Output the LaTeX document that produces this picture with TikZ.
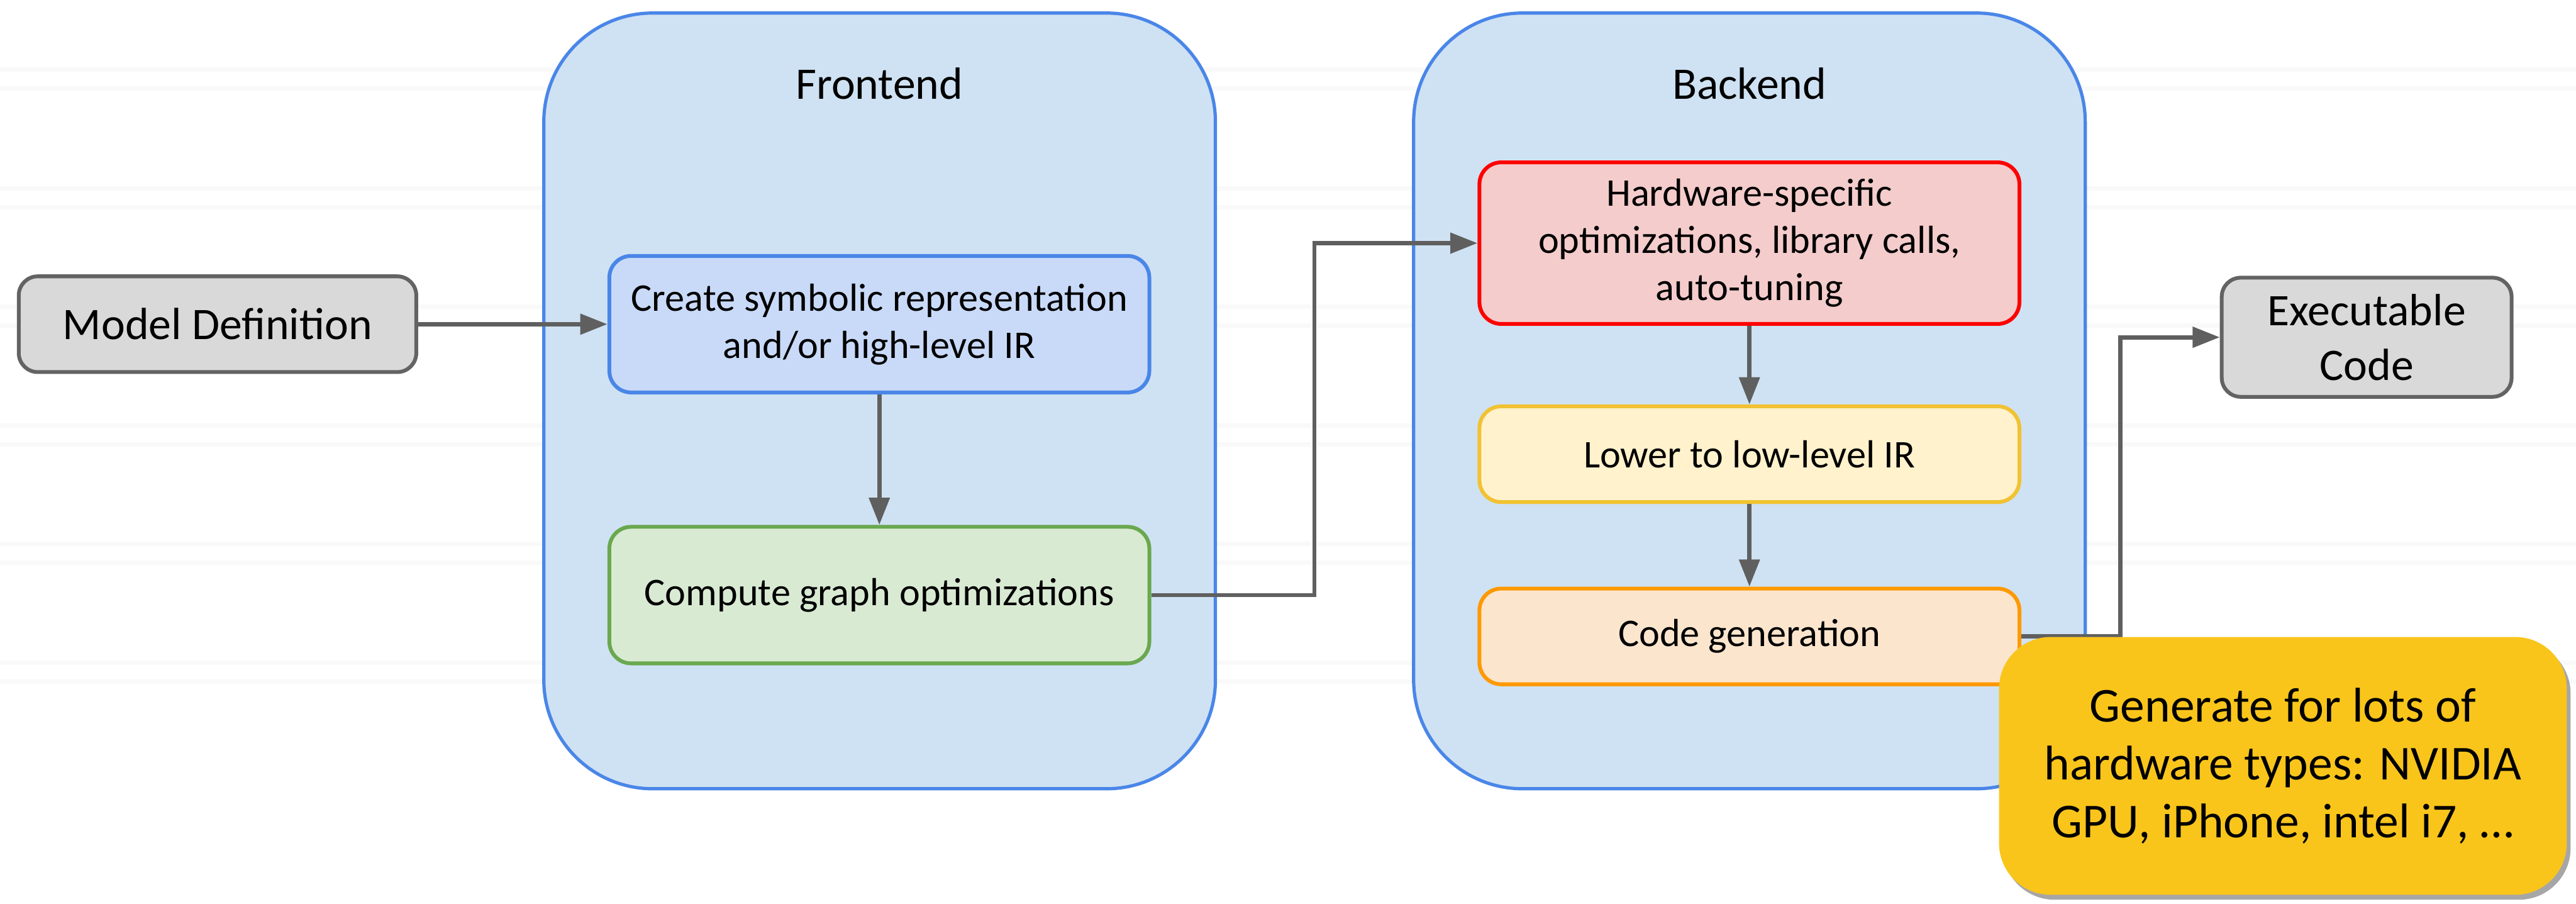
\documentclass[tikz,border=0pt]{standalone}
\usepackage{fontspec}
\setmainfont{Carlito}
\usepackage{xcolor}
\definecolor{paneFill}{HTML}{CFE2F3}
\definecolor{paneLine}{HTML}{4A86E8}
\definecolor{irFill}{HTML}{C9DAF8}
\definecolor{graphFill}{HTML}{D9EAD3}
\definecolor{graphLine}{HTML}{6AA84F}
\definecolor{hwFill}{HTML}{F4CCCC}
\definecolor{hwLine}{HTML}{FF0000}
\definecolor{lowerFill}{HTML}{FFF2CC}
\definecolor{lowerLine}{HTML}{F1C232}
\definecolor{codegenFill}{HTML}{FCE5CD}
\definecolor{codegenLine}{HTML}{FF9900}
\definecolor{endFill}{HTML}{D9D9D9}
\definecolor{endLine}{HTML}{636363}
\definecolor{arrowGrey}{HTML}{5F5F5F}
\definecolor{noteYellow}{HTML}{F9C51B}
\definecolor{ruleGrey}{HTML}{F9F9F9}
\usepackage{tikz}
\usetikzlibrary{arrows.meta, calc, shadows}
\newcommand{\headFont}{\fontsize{23.6pt}{28.5pt}\selectfont}
\newcommand{\stageFont}{\fontsize{20.5pt}{24.7pt}\selectfont}
\newcommand{\noteFont}{\fontsize{25.5pt}{30.4pt}\selectfont}
\tikzset{
  %% -- containers -------------------------------------------------------
  pane/.style       = {draw=paneLine, fill=paneFill, line width=0.06cm,
                       rounded corners=2cm, minimum width=12.35cm,
                       minimum height=14.26cm, inner sep=0pt},
  paneTitle/.style  = {font=\headFont, anchor=base, inner sep=0pt},
  %% -- steps inside the containers --------------------------------------
  stage/.style      = {line width=0.07cm, rounded corners=0.4cm,
                       minimum width=9.93cm, minimum height=2.51cm,
                       align=center, inner sep=0pt, font=\stageFont},
  stageShort/.style = {stage, minimum height=1.76cm},
  %% -- what goes in and what comes out -----------------------------------
  endpoint/.style   = {draw=endLine, fill=endFill, line width=0.07cm,
                       rounded corners=0.35cm, align=center, inner sep=0pt,
                       font=\headFont},
  %% -- the yellow remark, laid over everything else ----------------------
  note/.style       = {fill=noteYellow, rounded corners=0.95cm,
                       minimum width=10.44cm, minimum height=4.74cm,
                       align=center, inner sep=0pt, font=\noteFont,
                       drop shadow={shadow xshift=0.07cm, shadow yshift=-0.09cm,
                                    fill=black, opacity=0.35}},
  %% -- arrows and the faint ruling ---------------------------------------
  flow/.style       = {-{Triangle[length=0.5cm, width=0.37cm]}, draw=arrowGrey,
                       line width=0.08cm},
  rule/.style       = {draw=ruleGrey, line width=0.08cm},
}

\begin{document}
\begin{tikzpicture}[x=1cm, y=1cm]
\useasboundingbox (0,0) rectangle (47.37,-16.61);

% ruled paper behind the diagram
\foreach \k in {0,...,5} {
  \draw[rule] (0,{-1.28-2.18*\k}) -- (47.37,{-1.28-2.18*\k});
  \draw[rule] (0,{-1.63-2.18*\k}) -- (47.37,{-1.63-2.18*\k});
}

\node[pane] (front) at (16.175,-7.37) {};
\node[pane] (back)  at (32.17,-7.37) {};
\node[paneTitle] (frontTitle) at (16.17,-1.82) {Frontend};
\node[paneTitle] (backTitle)  at (32.17,-1.82) {Backend};

\node[stage, draw=paneLine, fill=irFill] (symbolic) at (16.17,-5.96)
     {Create symbolic representation\\and/or high-level IR};
\node[stage, draw=graphLine, fill=graphFill] (graphopt) at (16.17,-10.94)
     {Compute graph optimizations};

\node[stage, draw=hwLine, fill=hwFill, minimum height=2.97cm] (hwopt) at (32.17,-4.47)
     {Hardware-specific\\optimizations, library calls,\\auto-tuning};
\node[stageShort, draw=lowerLine, fill=lowerFill] (lowering) at (32.17,-8.35)
     {Lower to low-level IR};
\node[stageShort, draw=codegenLine, fill=codegenFill] (codegen) at (32.17,-11.70)
     {Code generation};

\node[endpoint, minimum width=7.31cm, minimum height=1.76cm] (model) at (4.00,-5.96)
     {Model Definition};
\node[endpoint, minimum width=5.33cm, minimum height=2.19cm] (exec) at (43.52,-6.20)
     {Executable\\Code};

\draw[flow] (model) -- (symbolic);
\draw[flow] (symbolic) -- (graphopt);
\draw[flow] (graphopt.east) -| ($(graphopt.east)!.5!(hwopt.west)$) |- (hwopt.west);
\draw[flow] (hwopt) -- (lowering);
\draw[flow] (lowering) -- (codegen);
\draw[flow] (codegen.east) -| ($(codegen.east)!.5!(exec.west)$) |- (exec.west);

\node[note] (hwnote) at (41.98,-14.08)
     {Generate for lots of\\hardware types: NVIDIA\\GPU, iPhone, intel i7, …};

\end{tikzpicture}
\end{document}
